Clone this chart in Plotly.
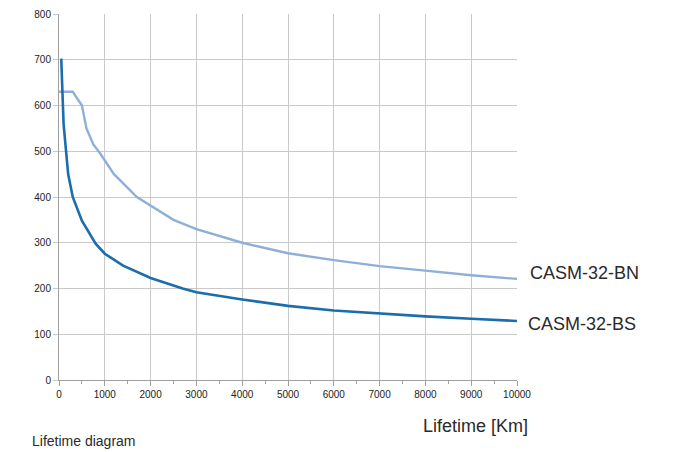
import plotly.graph_objects as go

bs_x = [30, 50, 100, 150, 200, 300, 500, 800, 1000, 1400, 2000, 2700, 3000, 4000, 5000, 6000, 7000, 8000, 9000, 10000]
bs_y = [700, 700, 560, 500, 450, 400, 348, 298, 276, 250, 223, 200, 192, 176, 162, 152, 145, 139, 134, 129]

bn_x = [0, 300, 500, 600, 750, 900, 1200, 1700, 2500, 3000, 4000, 5000, 6000, 7000, 8000, 9000, 10000]
bn_y = [630, 630, 600, 550, 515, 495, 450, 400, 350, 330, 300, 277, 262, 249, 239, 229, 221]

series_names = ["CASM-32-BN", "CASM-32-BS"]
x_title = "Lifetime [Km]"
chart_caption = "Lifetime diagram"

FONT = "Liberation Sans, Arial"
TXT = "#2a2a2a"

fig = go.Figure()
fig.add_trace(go.Scatter(x=bn_x, y=bn_y, mode="lines", line=dict(color="#8eb0d8", width=2.4), name=series_names[0]))
fig.add_trace(go.Scatter(x=bs_x, y=bs_y, mode="lines", line=dict(color="#1c6dac", width=2.6), name=series_names[1]))

fig.add_annotation(x=10000, y=bn_y[-1], xref="x", yref="y", text=series_names[0], showarrow=False,
                   xanchor="left", yanchor="middle", xshift=11, yshift=6,
                   font=dict(family=FONT, size=18, color=TXT))
fig.add_annotation(x=10000, y=bs_y[-1], xref="x", yref="y", text=series_names[1], showarrow=False,
                   xanchor="left", yanchor="middle", xshift=9, yshift=-3,
                   font=dict(family=FONT, size=18, color=TXT))
fig.add_annotation(x=1, y=0, xref="paper", yref="paper", text=x_title, showarrow=False,
                   xanchor="right", yanchor="middle", xshift=13, yshift=-46,
                   font=dict(family=FONT, size=18, color=TXT))
fig.add_annotation(x=0, y=0, xref="paper", yref="paper", text=chart_caption, showarrow=False,
                   xanchor="left", yanchor="middle", xshift=-29, yshift=-61,
                   font=dict(family=FONT, size=14, color=TXT))

fig.update_layout(
    width=667, height=444,
    margin=dict(l=51, r=158, t=6, b=72),
    paper_bgcolor="white", plot_bgcolor="white",
    showlegend=False,
    xaxis=dict(range=[0, 10000], dtick=1000, tick0=0, tickformat="d", showgrid=True, gridcolor="#c9c9c9", gridwidth=1,
               showline=True, linecolor="#a0a0a0", linewidth=1, zeroline=False, automargin=False,
               ticks="outside", ticklen=5, tickcolor="#a0a0a0",
               minor=dict(dtick=500, ticks="outside", ticklen=3, tickcolor="#a0a0a0", showgrid=False),
               tickfont=dict(family=FONT, size=10, color="#222"), fixedrange=True),
    yaxis=dict(range=[0, 800], dtick=100, showgrid=True, gridcolor="#c9c9c9", gridwidth=1,
               showline=True, linecolor="#a0a0a0", linewidth=1, zeroline=False, automargin=False,
               ticks="outside", ticklen=5, tickcolor="#c9c9c9",
               tickfont=dict(family=FONT, size=10, color="#222"), fixedrange=True),
)

fig.write_html("out.html")
